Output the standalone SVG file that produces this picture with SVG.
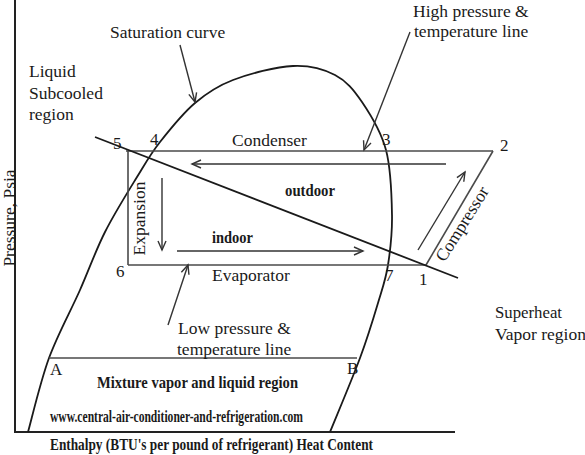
<svg xmlns="http://www.w3.org/2000/svg" width="585" height="455" viewBox="0 0 585 455" font-family="'Liberation Serif', Tinos, 'Times New Roman', 'DejaVu Serif', serif">
<style>
text{font-family:"Liberation Serif",Tinos,"Times New Roman","DejaVu Serif",serif;fill:#1a1a1a;font-size:17.5px}
.b{font-weight:bold}
.num{font-size:17px}
.ln{stroke:#4a4a4a;stroke-width:1.6;fill:none}
.ax{stroke:#222;stroke-width:2;fill:none}
.cv{stroke:#1a1a1a;stroke-width:1.8;fill:none}
.ar{stroke:#333;stroke-width:1.4;fill:none;marker-end:url(#ah)}
</style>
<defs>
<marker id="ah" markerUnits="userSpaceOnUse" markerWidth="14" markerHeight="12" viewBox="-10 -6 12 12" refX="0" refY="0" orient="auto">
<path d="M-9,-4 L0,0 L-9,4" fill="none" stroke="#333" stroke-width="1.4"/>
</marker>
</defs>
<rect width="585" height="455" fill="#fff"/>
<g id="connectors">
<path id="axes" class="ax" d="M15,0 L15,432 L455,432"/>
<path id="saturation-curve" class="cv" d="M28,432 C31.5,419.7 40.3,381.7 49,358 C57.7,334.3 70.7,311 80,290 C89.3,269 95.5,250.8 105,232 C114.5,213.2 127.8,192 137,177 C146.2,162 150.3,154.3 160,142 C169.7,129.7 182.8,113.3 195,103 C207.2,92.7 216.7,86.2 233,80 C249.3,73.8 276,66.8 293,66 C310,65.2 323.5,69 335,75 C346.5,81 353.5,89.5 362,102 C370.5,114.5 381,131.2 386,150 C391,168.8 391.7,195.8 392,215 C392.3,234.2 390.3,250.3 388,265 C385.7,279.7 382.7,287.2 378,303 C373.3,318.8 368,336.5 360,358 C352,379.5 335,419.7 330,432"/>
<line class="ln" x1="126" y1="151" x2="493" y2="151"/>
<line class="ln" x1="128" y1="151" x2="128" y2="265"/>
<line class="ln" x1="128" y1="265" x2="426" y2="265"/>
<line class="ln" x1="426" y1="265" x2="493" y2="151"/>
<line class="cv" x1="95" y1="137" x2="458" y2="278" stroke-width="1.5"/>
<line class="ln" x1="49" y1="358" x2="357" y2="358"/>
<line class="ar" x1="446" y1="164" x2="192" y2="164"/>
<line class="ar" x1="162" y1="178" x2="162" y2="250"/>
<line class="ar" x1="177" y1="251" x2="363" y2="251"/>
<line class="ar" x1="418" y1="250" x2="465" y2="172"/>
<line class="ar" x1="180" y1="45" x2="195" y2="102"/>
<line class="ar" x1="410" y1="32" x2="364" y2="150"/>
<line class="ar" x1="168" y1="325" x2="188" y2="265"/>
</g>
<g id="label-saturation"><text x="110" y="38">Saturation curve</text></g>
<g id="label-liquid"><text x="29" y="77">Liquid</text><text x="29" y="99">Subcooled</text><text x="29" y="120">region</text></g>
<g id="label-high"><text x="413" y="17">High pressure &amp;</text><text x="414" y="37">temperature line</text></g>
<g id="label-condenser"><text x="232" y="146" font-size="19">Condenser</text></g>
<g id="points">
<text class="num" x="113" y="149">5</text>
<text class="num" x="150" y="145">4</text>
<text class="num" x="382" y="145">3</text>
<text class="num" x="500" y="151">2</text>
<text class="num" x="116" y="277">6</text>
<text class="num" x="385" y="281">7</text>
<text class="num" x="419" y="285">1</text>
<text class="num" x="50" y="375">A</text>
<text class="num" x="347" y="374">B</text>
</g>
<g id="label-outdoor"><text class="b" x="285" y="196" font-size="14.5" textLength="50" lengthAdjust="spacingAndGlyphs">outdoor</text></g>
<g id="label-indoor"><text class="b" x="212" y="243" font-size="14.5" textLength="41" lengthAdjust="spacingAndGlyphs">indoor</text></g>
<g id="label-expansion"><text transform="translate(144.5,218.5) rotate(-90)" text-anchor="middle" font-size="20">Expansion</text></g>
<g id="label-compressor"><text transform="translate(467,227) rotate(-58)" text-anchor="middle" font-size="19">Compressor</text></g>
<g id="label-evaporator"><text x="212" y="281" font-size="18.5">Evaporator</text></g>
<g id="label-low"><text x="178" y="334">Low pressure &amp;</text><text x="177" y="355">temperature line</text></g>
<g id="label-mixture"><text class="b" x="97" y="388" font-size="14.5" textLength="201" lengthAdjust="spacingAndGlyphs">Mixture vapor and liquid region</text></g>
<g id="label-www"><text class="b" x="50" y="422" font-size="11" textLength="253" lengthAdjust="spacingAndGlyphs">www.central-air-conditioner-and-refrigeration.com</text></g>
<g id="label-superheat"><text x="495" y="318" font-size="17" textLength="67" lengthAdjust="spacingAndGlyphs">Superheat</text><text x="495" y="340" font-size="17">Vapor region</text></g>
<g id="label-y-axis"><text transform="translate(15,218) rotate(-90)" text-anchor="middle" font-size="20">Pressure, Psia</text></g>
<g id="label-x-axis"><text class="b" x="50" y="450" font-size="15" textLength="323" lengthAdjust="spacingAndGlyphs">Enthalpy (BTU's per pound of refrigerant) Heat Content</text></g>
</svg>
